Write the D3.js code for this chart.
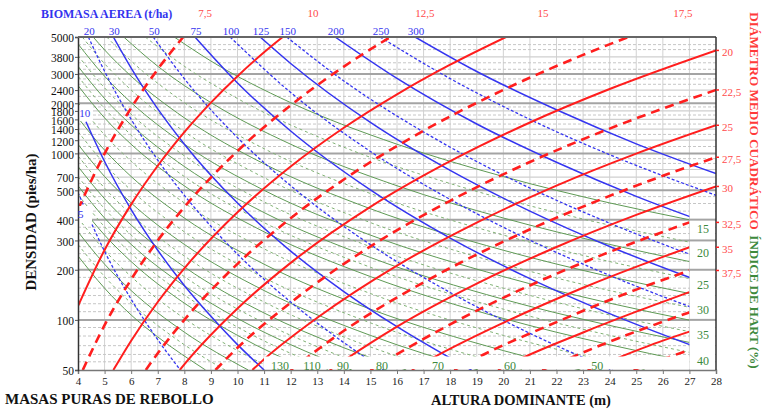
<!DOCTYPE html>
<html>
<head>
<meta charset="utf-8">
<script src="https://cdn.jsdelivr.net/npm/d3@7"></script>
<style>
  body { margin: 0; background: #fff; }
  svg { display: block; }
  text { font-family: "Liberation Serif", "Times New Roman", serif; }
</style>
</head>
<body>
<svg id="chart" width="763" height="410"></svg>
<script>
// ---- Axes ----
const heightTicks = [4,5,6,7,8,9,10,11,12,13,14,15,16,17,18,19,20,21,22,23,24,25,26,27,28];
const densityTicks = [50,100,200,300,400,600,720,1000,1200,1400,1600,1800,2000,2400,3000,3800,5000];
const densityTickText = ["50","100","200","300","400","500","700","1000","1200","1400","1600","1800","2000","2400","3000","3800","5000"];

// ---- Horizontal grid (pies/ha) ----
const gridMajor = [100,200,300,400,600,1000,2000,3000];
const gridLight = [720,800,1200,1400,1600,1800,2400,3800];
const gridDashed = [56,62,70,80,90,112,125,140,155,180,225,250,275,330,360,450,500,550,660,870,930,
                    1100,1300,1500,1700,1900,2200,2600,2800,3200,3500,4200,4500];

// ---- Biomasa aérea (t/ha): isolines [altura dominante, densidad] ----
const biomassValues = [5,10,20,30,50,75,100,125,150,200,250,300];
const biomassStyle  = ["dash","solid","dash","solid","dash","solid","dash","solid","dash","solid","dash","solid"];
const biomassPoints = [
  [[4,583],[5,258],[6,133],[7,76],[7.85,50]],
  [[4.3,1550],[5,894],[6,460],[7,262],[8,161],[9,105],[10,71],[11,50]],
  [[4.39,5000],[5,3110],[6,1600],[7,912],[8,560],[9,365],[10,248],[12,128],[14,73],[15.5,50]],
  [[5.33,5000],[6,3250],[7,1850],[8,1136],[10,503],[12,259],[14,148],[16,91],[18.8,50]],
  [[6.83,5000],[8,2809],[10,1243],[12,640],[15,283],[18,146],[21,83],[24.1,50]],
  [[8.4,5000],[10,2648],[12,1362],[15,603],[18,310],[21,177],[24,109],[28,62]],
  [[9.72,5000],[12,2322],[15,1027],[18,529],[21,301],[24,185],[28,105]],
  [[10.85,5000],[12,3467],[15,1534],[18,790],[21,450],[24,276],[28,157]],
  [[11.85,5000],[14,2723],[17,1344],[20,740],[24,381],[28,217]],
  [[13.67,5000],[16,2818],[19,1501],[22,884],[25,552],[28,366]],
  [[15.36,5000],[18,2812],[21,1600],[24,982],[28,560]],
  [[16.68,5000],[19,3103],[22,1827],[25,1141],[28,756]]
];
// labels of the two lowest isolines, placed at the left edge
const biomassSideLabels = [{v:"5", h:4.1, n:430}, {v:"10", h:4.25, n:1750}];

// ---- Diámetro medio cuadrático (cm) ----
const diameterValues = [7.5,10,12.5,15,17.5,20,22.5,25,27.5,30,32.5,35,37.5,40,42.5,45,47.5];
const diameterStyle  = ["dash","solid","dash","solid","dash","solid","dash","solid","dash","solid","dash","solid","dash","solid","dash","solid","dash"];
const diameterPoints = [
  [[4,460],[5,997],[6,1875],[7,3203],[7.96,5000]],
  [[4,121],[5,263],[6,494],[7,843],[8,1341],[9,2018],[10,2909],[11,4049],[11.7,5000]],
  [[4.18,50],[5,93],[6,175],[7,300],[8,476],[10,1033],[12,1943],[14,3320],[15.75,5000]],
  [[5.33,50],[6,75],[7,128],[8,204],[10,443],[12,834],[14,1425],[16,2263],[18,3408],[20.1,5000]],
  [[6.55,50],[7,63],[8,100],[10,217],[12,408],[14,697],[17,1368],[20,2404],[23,3904],[24.7,5000]],
  [[7.83,50],[8,54],[10,117],[12,220],[15,477],[18,897],[21,1532],[24,2435],[28,4153]],
  [[9.17,50],[10,68],[12,127],[15,276],[18,519],[21,887],[24,1409],[28,2403]],
  [[10.56,50],[11,58],[13,103],[16,212],[19,384],[22,640],[25,996],[28,1475]],
  [[12,50],[14,86],[17,168],[20,295],[23,479],[26,733],[28,948]],
  [[13.47,50],[14,57],[16,91],[19,165],[22,274],[25,427],[28,633]],
  [[15,50],[18,94],[21,161],[24,256],[27,385]],
  [[16.56,50],[17,55],[20,96],[23,156],[26,239],[27,273]],
  [[18.15,50],[19,59],[22,97],[25,152],[27,198]],
  [[19.8,50],[20,52],[23,84],[25,112],[27,147]],
  [[21.46,50],[22,54.5],[24,74],[27,111]],
  [[23.17,50],[24,56.5],[26,75],[27,85]],
  [[24.9,50],[26,58],[27,66]]
];
const diameterTopText = ["7,5","10","12,5","15","17,5"];
const diameterTopH    = [8.78,12.84,17.05,21.49,26.75];
const diameterSideText = ["20","22,5","25","27,5","30","32,5","35","37,5"];

// ---- Índice de Hart (%) ----
const hartValues = [15,17.5,20,22.5,25,27.5,30,32.5,35,37.5,40,45,50,55,60,65,70,75,80,85,90,100,110,120,130];
const hartStyle  = ["solid","dash","solid","dash","solid","dash","solid","dash","solid","dash","solid","dash","solid",
                    "dash","solid","dash","solid","dash","solid","dash","solid","dash","solid","dash","solid"];
const hartPoints = [
  [[7.62,5000],[9,3586],[12,2017],[16,1135],[20,726],[24,504],[27,399]],
  [[6.53,5000],[8,3336],[10,2135],[14,1089],[18,659],[22,441],[27,293]],
  [[5.72,5000],[7,3336],[9,2018],[12,1135],[16,639],[20,409],[24,284],[27,224]],
  [[5.08,5000],[6,3586],[8,2017],[11,1067],[15,574],[20,323],[24,224],[27,177]],
  [[4.57,5000],[5,4183],[6,2906],[8,1635],[11,865],[15,465],[20,262],[24,182],[27,144]],
  [[4.16,5000],[5,3457],[6,2402],[8,1351],[11,715],[15,384],[20,216],[24,150],[27,119]],
  [[4,4541],[5,2905],[6,2018],[8,1135],[11,600],[15,323],[20,182],[24,126],[27,99.7]],
  [[4,3868],[5,2475],[6,1719],[8,967],[11,511],[15,275],[20,155],[24,107],[27,85]],
  [[4,3335],[5,2134],[6,1482],[8,834],[11,441],[15,237],[20,133],[24,92.6],[27,73.2]],
  [[4,2906],[5,1859],[6,1291],[8,726],[11,384],[15,207],[20,116],[24,80.7],[27,63.8]],
  [[4,2553],[5,1634],[6,1134],[8,638],[11,338],[15,182],[20,102],[24,70.9],[27,56]],
  [[4,2018],[5,1291],[6,897],[8,504],[11,267],[15,144],[20,80.7],[25.4,50]],
  [[4,1634],[5,1046],[6,726],[8,409],[11,216],[15,116],[20,65.4],[22.9,50]],
  [[4,1351],[5,864],[6,600],[8,338],[11,179],[15,96],[20.8,50]],
  [[4,1134],[5,726],[6,504],[8,284],[11,150],[15,80.7],[19.05,50]],
  [[4,967],[5,619],[6,430],[8,242],[11,128],[14,79],[17.6,50]],
  [[4,834],[5,534],[6,371],[8,208],[11,110],[14,68],[16.35,50]],
  [[4,726],[5,465],[6,323],[8,182],[11,96],[13,69],[15.25,50]],
  [[4,639],[5,409],[6,284],[8,160],[10,102],[12,71],[14.3,50]],
  [[4,566],[5,362],[6,251],[8,141],[10,90.5],[13.45,50]],
  [[4,505],[5,323],[6,224],[8,126],[10,80.7],[12.7,50]],
  [[4,409],[5,262],[6,182],[8,102],[10,65.4],[11.43,50]],
  [[4,338],[5,216],[6,150],[8,84.4],[10.4,50]],
  [[4,284],[5,182],[6,126],[8,70.9],[9.53,50]],
  [[4,242],[5,155],[6,107],[7,79],[8.8,50]]
];
const hartSideText = ["15","20","25","30","35","40"];
const hartSideN    = [352,252,162,114.6,81,56.6];
const hartBottomText = ["130","110","90","80","70","60","50"];
const hartBottomH    = [11.6,12.8,13.97,15.44,17.54,20.25,23.53];

// ---- Colours ----
const RED = "#ff1e1e", BLUE = "#3535f0", GREEN = "#5f9a55";

const svg = d3.select("#chart");
const x = d3.scaleLinear().domain([4, 28]).range([78, 716]);
const y = d3.scaleLog().domain([50, 5000]).range([370, 37]);
const X0 = x(4), X1 = x(28), XL = x(27), Y0 = y(50), Y1 = y(5000);

// plotting region; the lower right strip is kept for the Hart labels
const defs = svg.append("defs");
defs.append("clipPath").attr("id", "plot")
  .append("path")
  .attr("d", `M${X0},${Y1} H${X1} V205 H${XL} V${Y0} H${X0} Z`);

// ---- Grid ----
const grid = svg.append("g");
grid.selectAll(".v").data(heightTicks.slice(1, -1)).join("line")
  .attr("x1", d => x(d)).attr("x2", d => x(d)).attr("y1", Y1).attr("y2", Y0)
  .attr("stroke", "#d2d2d2").attr("stroke-width", 1);
grid.selectAll(".hd").data(gridDashed).join("line")
  .attr("x1", X0).attr("x2", X1).attr("y1", d => y(d)).attr("y2", d => y(d))
  .attr("stroke", "#c6c6c6").attr("stroke-width", 1).attr("stroke-dasharray", "3,2");
grid.selectAll(".hl").data(gridLight).join("line")
  .attr("x1", X0).attr("x2", X1).attr("y1", d => y(d)).attr("y2", d => y(d))
  .attr("stroke", "#cfcfcf").attr("stroke-width", 1.2);
grid.selectAll(".hm").data(gridMajor).join("line")
  .attr("x1", X0).attr("x2", X1).attr("y1", d => y(d)).attr("y2", d => y(d))
  .attr("stroke", "#a4a4a4").attr("stroke-width", 2);

// ---- Isolines ----
const line = d3.line().x(d => x(d[0])).y(d => y(d[1])).curve(d3.curveMonotoneX);
const lines = svg.append("g").attr("clip-path", "url(#plot)");

lines.selectAll(".hart").data(hartPoints).join("path")
  .attr("d", line).attr("fill", "none")
  .attr("stroke", (d, i) => hartStyle[i] === "solid" ? GREEN : "#80b174")
  .attr("stroke-width", 1)
  .attr("stroke-dasharray", (d, i) => hartStyle[i] === "solid" ? null : "3,3");

lines.selectAll(".bio").data(biomassPoints).join("path")
  .attr("d", line).attr("fill", "none")
  .attr("stroke", BLUE)
  .attr("stroke-width", (d, i) => biomassStyle[i] === "solid" ? 1.5 : 1.3)
  .attr("stroke-dasharray", (d, i) => biomassStyle[i] === "solid" ? null : "3,2");

lines.selectAll(".dg").data(diameterPoints).join("path")
  .attr("d", line).attr("fill", "none")
  .attr("stroke", RED)
  .attr("stroke-width", (d, i) => diameterStyle[i] === "solid" ? 2 : 2.6)
  .attr("stroke-dasharray", (d, i) => diameterStyle[i] === "solid" ? null : "9,6");

// ---- Label areas inside the frame ----
const boxes = svg.append("g").attr("fill", "#fff");
boxes.append("rect").attr("x", 264).attr("y", 356.5).attr("width", XL - 264).attr("height", Y0 - 357.5);
boxes.append("rect").attr("x", XL + 0.5).attr("y", 205).attr("width", X1 - XL - 1.5).attr("height", Y0 - 206);
boxes.append("rect").attr("x", X0 + 1).attr("y", 105).attr("width", 14).attr("height", 16);
boxes.append("rect").attr("x", X0 + 1).attr("y", 206).attr("width", 13).attr("height", 17);
// major lines stay visible across the Hart label strip
svg.append("g").selectAll("line").data(gridMajor.filter(v => y(v) > 205)).join("line")
  .attr("x1", XL).attr("x2", X1).attr("y1", d => y(d)).attr("y2", d => y(d))
  .attr("stroke", "#a4a4a4").attr("stroke-width", 2);

// ---- Frame and axes ----
const xAxis = svg.append("g").attr("transform", `translate(0,${Y0})`)
  .call(d3.axisBottom(x).tickValues(heightTicks).tickFormat(d3.format("d")).tickSize(4).tickPadding(3));
xAxis.select(".domain").attr("stroke", "#777").attr("stroke-width", 1.5);
xAxis.selectAll(".tick line").attr("stroke", "#777");
xAxis.selectAll("text").attr("font-size", 11).attr("fill", "#222")
  .style("font-family", "'Liberation Serif', serif");

const yAxis = svg.append("g").attr("transform", `translate(${X0},0)`)
  .call(d3.axisLeft(y).tickValues(densityTicks).tickFormat((d, i) => densityTickText[i]).tickSize(3).tickPadding(1));
yAxis.select(".domain").attr("stroke", "#333").attr("stroke-width", 1.5);
yAxis.selectAll(".tick line").attr("stroke", "#555");
yAxis.selectAll("text").attr("font-size", 11.5).attr("fill", "#111").attr("dy", "0.42em")
  .style("font-family", "'Liberation Serif', serif");

svg.append("line").attr("x1", X0).attr("x2", X1).attr("y1", Y1).attr("y2", Y1)
  .attr("stroke", "#666").attr("stroke-width", 2);
svg.append("line").attr("x1", X1).attr("x2", X1).attr("y1", Y1).attr("y2", Y0)
  .attr("stroke", "#333").attr("stroke-width", 1.5);

// ---- Isoline labels ----
const lab = svg.append("g");
// biomass, along the top edge
lab.selectAll(".bt").data(biomassValues.slice(2)).join("text")
  .attr("x", (d, i) => x(biomassPoints[i + 2][0][0]) + 1).attr("y", 35)
  .attr("text-anchor", "middle").attr("font-size", 11).attr("fill", BLUE).text(d => d);
lab.selectAll(".bs").data(biomassSideLabels).join("text")
  .attr("x", d => x(d.h)).attr("y", d => y(d.n)).attr("dy", "0.35em")
  .attr("text-anchor", "middle").attr("font-size", 11).attr("fill", BLUE).text(d => d.v);

// diameter, along the top and the right edge
lab.selectAll(".dt").data(diameterTopText).join("text")
  .attr("x", (d, i) => x(diameterTopH[i])).attr("y", 17)
  .attr("text-anchor", "middle").attr("font-size", 11).attr("fill", "#ff4a4a").text(d => d);
lab.selectAll(".ds").data(diameterSideText).join("text")
  .attr("x", 722)
  .attr("y", (d, i) => { const p = diameterPoints[i + 5]; return y(p[p.length - 1][1]); })
  .attr("dy", "0.55em").attr("font-size", 11).attr("fill", "#ff4a4a").text(d => d);
lab.selectAll(".dtick").data(diameterSideText).join("line")
  .attr("x1", X1).attr("x2", X1 + 3)
  .attr("y1", (d, i) => { const p = diameterPoints[i + 5]; return y(p[p.length - 1][1]); })
  .attr("y2", (d, i) => { const p = diameterPoints[i + 5]; return y(p[p.length - 1][1]); })
  .attr("stroke", RED).attr("stroke-width", 1.5);

// Hart index, right strip and bottom band
lab.selectAll(".hs").data(hartSideText).join("text")
  .attr("x", 703).attr("y", (d, i) => y(hartSideN[i])).attr("dy", "0.35em")
  .attr("text-anchor", "middle").attr("font-size", 12).attr("fill", "#3d8a3d").text(d => d);
lab.selectAll(".hb").data(hartBottomText).join("text")
  .attr("x", (d, i) => x(hartBottomH[i])).attr("y", 370)
  .attr("text-anchor", "middle").attr("font-size", 12).attr("fill", "#3d8a3d").text(d => d);

// ---- Titles ----
svg.append("text").attr("x", 41).attr("y", 18).attr("font-size", 12).attr("font-weight", "bold")
  .attr("fill", "#3333ee").text("BIOMASA AEREA  (t/ha)");
svg.append("text").attr("x", 5).attr("y", 404).attr("font-size", 15).attr("font-weight", "bold")
  .attr("fill", "#111").text("MASAS PURAS DE REBOLLO");
svg.append("text").attr("x", 521).attr("y", 405).attr("text-anchor", "middle")
  .attr("font-size", 14.5).attr("font-weight", "bold").attr("fill", "#111").text("ALTURA DOMINANTE (m)");
svg.append("text").attr("transform", "translate(36,222) rotate(-90)").attr("text-anchor", "middle")
  .attr("font-size", 15).attr("font-weight", "bold").attr("fill", "#111").text("DENSIDAD (pies/ha)");
svg.append("text").attr("transform", "translate(750,121) rotate(90)").attr("text-anchor", "middle")
  .attr("font-size", 13.2).attr("font-weight", "bold").attr("fill", "#ff3a3a").text("DIÁMETRO MEDIO CUADRÁTICO");
svg.append("text").attr("transform", "translate(750,302) rotate(90)").attr("text-anchor", "middle")
  .attr("font-size", 13).attr("font-weight", "bold").attr("fill", "#3d8a3d").text("ÍNDICE DE HART (%)");
</script>
</body>
</html>
